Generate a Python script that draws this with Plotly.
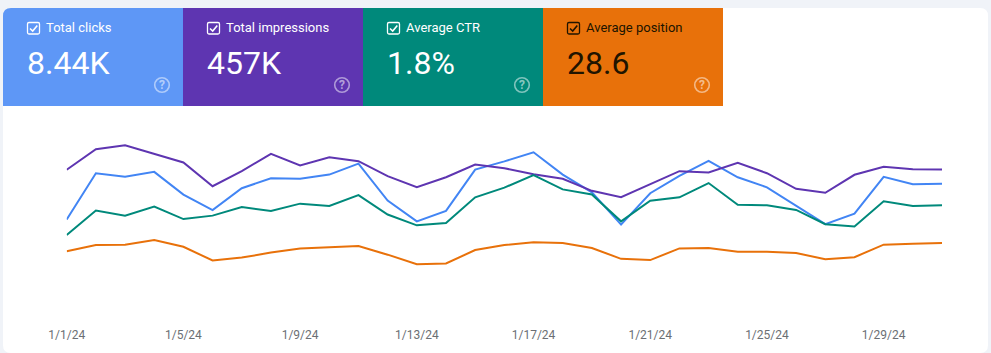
import plotly.graph_objects as go

W, H = 991, 353

dates = ["2024-01-%02d" % d for d in range(1, 32)]
tick_dates = ["2024-01-01", "2024-01-05", "2024-01-09", "2024-01-13",
              "2024-01-17", "2024-01-21", "2024-01-25", "2024-01-29"]
tick_labels = ["1/1/24", "1/5/24", "1/9/24", "1/13/24",
               "1/17/24", "1/21/24", "1/25/24", "1/29/24"]

clicks = [200, 302, 294, 305, 255, 221, 269, 291, 290, 299, 323, 242, 196, 219, 310, 328,
          348, 299, 260, 189, 258, 296, 329, 293, 271, 230, 190, 213, 294, 278, 279]
impressions = [14070, 16130, 16530, 15670, 14800, 12430, 13930, 15670, 14500, 15330, 14930,
               13430, 12330, 13330, 14600, 14230, 13630, 13170, 11970, 11330, 12670, 13930,
               13800, 14770, 13730, 12170, 11770, 13570, 14370, 14130, 14100]
ctr = [1.32, 1.75, 1.66, 1.82, 1.60, 1.66, 1.81, 1.74, 1.87, 1.83, 2.02, 1.68, 1.49, 1.53,
       1.98, 2.15, 2.37, 2.12, 2.03, 1.56, 1.92, 1.98, 2.23, 1.85, 1.84, 1.76, 1.51, 1.47,
       1.91, 1.83, 1.84]
position = [29.0, 27.5, 27.4, 26.3, 27.9, 31.2, 30.5, 29.3, 28.3, 28.0, 27.7, 29.8, 32.1, 31.9,
            28.7, 27.5, 26.8, 27.0, 28.2, 30.8, 31.1, 28.3, 28.2, 29.1, 29.1, 29.4, 30.9, 30.4,
            27.4, 27.2, 27.0]

card_labels = ["Total clicks", "Total impressions", "Average CTR", "Average position"]
card_values = ["8.44K", "457K", "1.8%", "28.6"]
card_colors = ["#5e97f6", "#5e35b1", "#00897b", "#e8710a"]
card_text = ["#ffffff", "#ffffff", "#ffffff", "#201400"]
line_colors = {"clicks": "#4285f4", "impressions": "#5e35b1", "ctr": "#00897b", "position": "#e8710a"}

BG = "#f0f3f8"
FONT = "Roboto, Arial, sans-serif"


def px(x):
    return x / W


def py(y):
    return 1 - y / H


def rounded(x0, y0, x1, y1, tl=0, tr=0, br=0, bl=0):
    def p(x, y):
        return f"{px(x):.5f},{py(y):.5f}"
    d = f"M{p(x0 + tl, y0)} L{p(x1 - tr, y0)} "
    if tr:
        d += f"Q{p(x1, y0)} {p(x1, y0 + tr)} "
    d += f"L{p(x1, y1 - br)} "
    if br:
        d += f"Q{p(x1, y1)} {p(x1 - br, y1)} "
    d += f"L{p(x0 + bl, y1)} "
    if bl:
        d += f"Q{p(x0, y1)} {p(x0, y1 - bl)} "
    d += f"L{p(x0, y0 + tl)} "
    if tl:
        d += f"Q{p(x0, y0)} {p(x0 + tl, y0)} "
    return d + "Z"


shapes = [dict(type="path", xref="paper", yref="paper", layer="below", line_width=0,
               fillcolor="#ffffff", path=rounded(3, 8, 988, 353, tl=8, tr=8, br=8, bl=8))]
annotations = []

for i, (lab, val, col, tc) in enumerate(zip(card_labels, card_values, card_colors, card_text)):
    ox = 3 + i * 180
    shapes.append(dict(type="path", xref="paper", yref="paper", layer="below", line_width=0,
                       fillcolor=col,
                       path=rounded(ox, 8, ox + 180, 106, tl=8 if i == 0 else 0)))
    # checkbox
    shapes.append(dict(type="path", xref="paper", yref="paper", layer="above",
                       line=dict(color=tc, width=1.3), fillcolor="rgba(0,0,0,0)",
                       path=rounded(ox + 24.5, 22.5, ox + 36.5, 34, tl=1.5, tr=1.5, br=1.5, bl=1.5)))
    shapes.append(dict(type="path", xref="paper", yref="paper", layer="above",
                       line=dict(color=tc, width=1.6),
                       path=f"M{px(ox + 27):.5f},{py(28.5):.5f} L{px(ox + 29.7):.5f},{py(31):.5f} "
                            f"L{px(ox + 34.3):.5f},{py(25.5):.5f}"))
    # help icon
    cx, cy, r = ox + 159, 85, 7.3
    shapes.append(dict(type="circle", xref="paper", yref="paper", layer="above",
                       x0=px(cx - r), x1=px(cx + r), y0=py(cy + r), y1=py(cy - r),
                       line=dict(color="rgba(255,255,255,0.5)", width=1.6)))
    annotations += [
        dict(x=px(cx), y=py(cy), text="?", showarrow=False, xanchor="center", yanchor="middle",
             font=dict(family=FONT, size=12, color="rgba(255,255,255,0.55)", weight=700)),
        dict(x=px(ox + 43), y=py(28), text=lab, showarrow=False, xanchor="left", yanchor="middle",
             font=dict(family=FONT, size=13, color=tc, weight=400)),
        dict(x=px(ox + 24), y=py(63), text=val, showarrow=False, xanchor="left", yanchor="middle",
             font=dict(family=FONT, size=32, color=tc)),
    ]

for a in annotations:
    a.update(xref="paper", yref="paper", xshift=0, borderpad=0, borderwidth=0)

fig = go.Figure()
fig.add_trace(go.Scatter(x=dates, y=impressions, name="Total impressions", mode="lines", yaxis="y2",
                         line=dict(color=line_colors["impressions"], width=2)))
fig.add_trace(go.Scatter(x=dates, y=position, name="Average position", mode="lines", yaxis="y4",
                         line=dict(color=line_colors["position"], width=2)))
fig.add_trace(go.Scatter(x=dates, y=ctr, name="Average CTR", mode="lines", yaxis="y3",
                         line=dict(color=line_colors["ctr"], width=2)))
fig.add_trace(go.Scatter(x=dates, y=clicks, name="Total clicks", mode="lines", yaxis="y",
                         line=dict(color=line_colors["clicks"], width=2)))

dom = [py(310.5), py(130.5)]
hidden = dict(visible=False, domain=dom, showgrid=False, zeroline=False, fixedrange=True, automargin=False)

fig.update_layout(
    width=W, height=H, autosize=False,
    margin=dict(l=0, r=0, t=0, b=0, pad=0),
    paper_bgcolor=BG, plot_bgcolor="rgba(0,0,0,0)",
    showlegend=False, hovermode=False,
    shapes=shapes, annotations=annotations,
    xaxis=dict(type="date", domain=[px(66.7), px(942)], range=[dates[0], dates[-1]], automargin=False,
               tickmode="array", tickvals=tick_dates, ticktext=tick_labels,
               ticks="outside", ticklen=13, tickcolor="rgba(0,0,0,0)", showgrid=False, zeroline=False,
               showline=False, tickangle=0,
               tickfont=dict(family=FONT, size=12, color="#6b6f74")),
    yaxis=dict(range=[0, 396], **hidden),
    yaxis2=dict(range=[0, 18000], overlaying="y", **hidden),
    yaxis3=dict(range=[0, 3.15], overlaying="y", **hidden),
    yaxis4=dict(range=[43.2, 0], overlaying="y", **hidden),
)

fig.write_html("out.html", config=dict(displayModeBar=False, staticPlot=True),
               post_script="document.body.style.margin='0';document.body.style.overflow='hidden';")
